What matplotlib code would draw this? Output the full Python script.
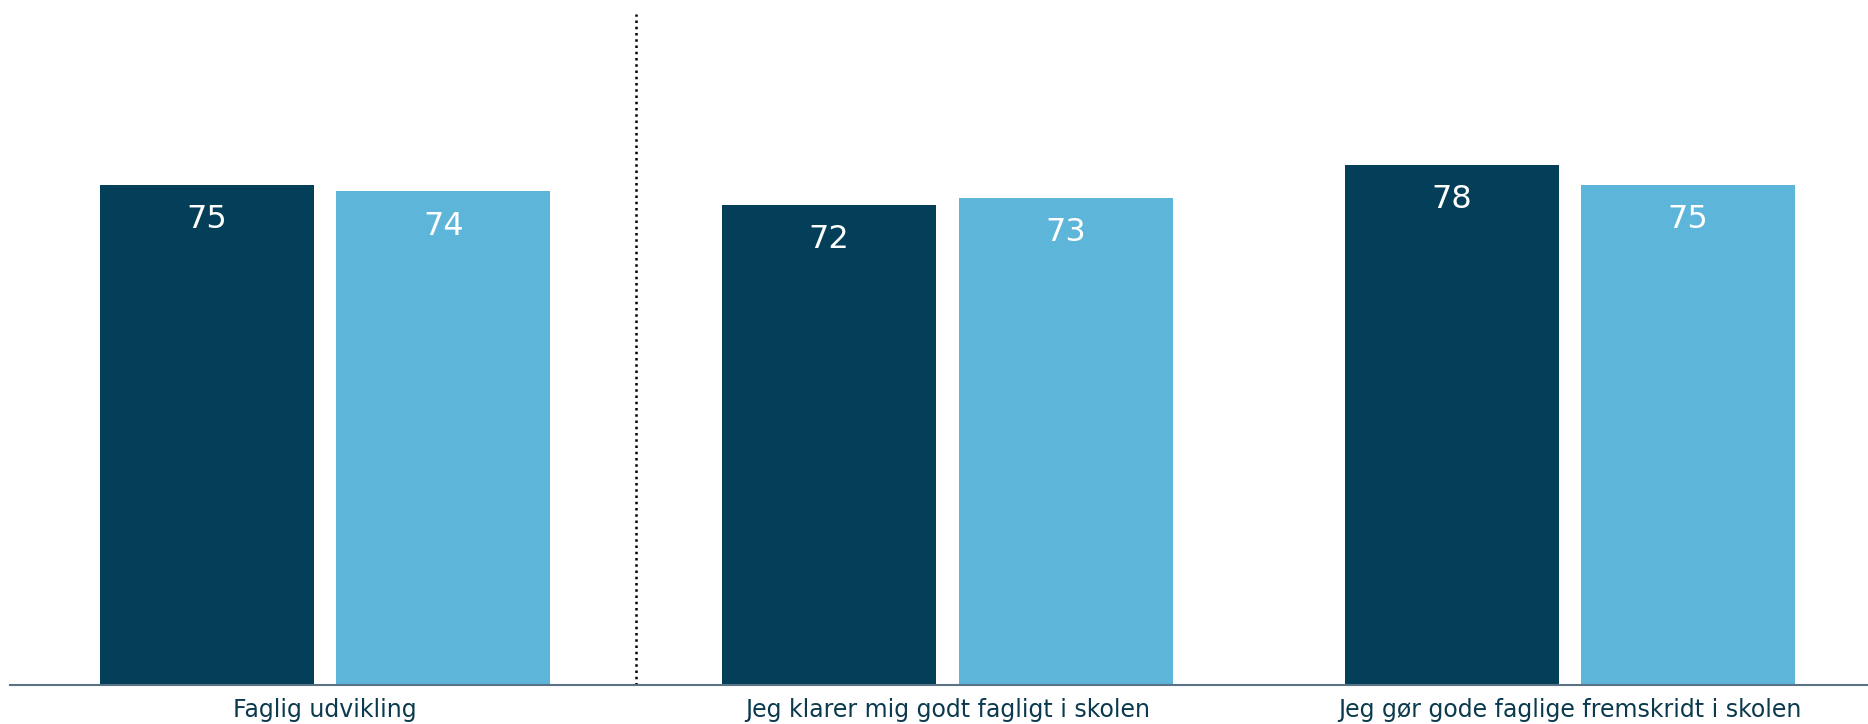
import matplotlib.pyplot as plt
import numpy as np

categories = ['Faglig udvikling', 'Jeg klarer mig godt fagligt i skolen',
              'Jeg gør gode faglige fremskridt i skolen']
series_a = [75, 72, 78]
series_b = [74, 73, 75]

dark = '#033f58'
light = '#5eb5da'

fig = plt.figure(figsize=(18.68, 7.24), dpi=100)
# axes bottom at baseline (y=685 px from top)
ax = fig.add_axes([10 / 1868, 1 - 685 / 724, 1 - 10 / 1868, 685 / 724])

x = np.arange(len(categories))
w = 0.344
off = 0.19
bars_a = ax.bar(x - off, series_a, w, color=dark)
bars_b = ax.bar(x + off, series_b, w, color=light)

for bars in (bars_a, bars_b):
    for b in bars:
        ax.annotate(f'{b.get_height():.0f}', (b.get_x() + b.get_width() / 2, b.get_height()),
                    xytext=(0, -25), textcoords='offset points', ha='center', va='center',
                    color='white', fontsize=23)

ax.set_xlim(-0.506, 2.479)
ax.set_ylim(0, 102.7)
ax.axvline(0.5, ymin=0, ymax=(685 - 14) / 685, color='black', linestyle=(0, (1, 1.5)), linewidth=1.8)

for s in ['top', 'right', 'left']:
    ax.spines[s].set_visible(False)
ax.spines['bottom'].set_color('#5a7384')
ax.spines['bottom'].set_linewidth(1.5)
ax.set_yticks([])
ax.set_xticks(x)
ax.set_xticklabels(categories, fontsize=17, color='#0b3a4e')
ax.tick_params(axis='x', length=0, pad=9)

fig.savefig('out.png', dpi=100)
